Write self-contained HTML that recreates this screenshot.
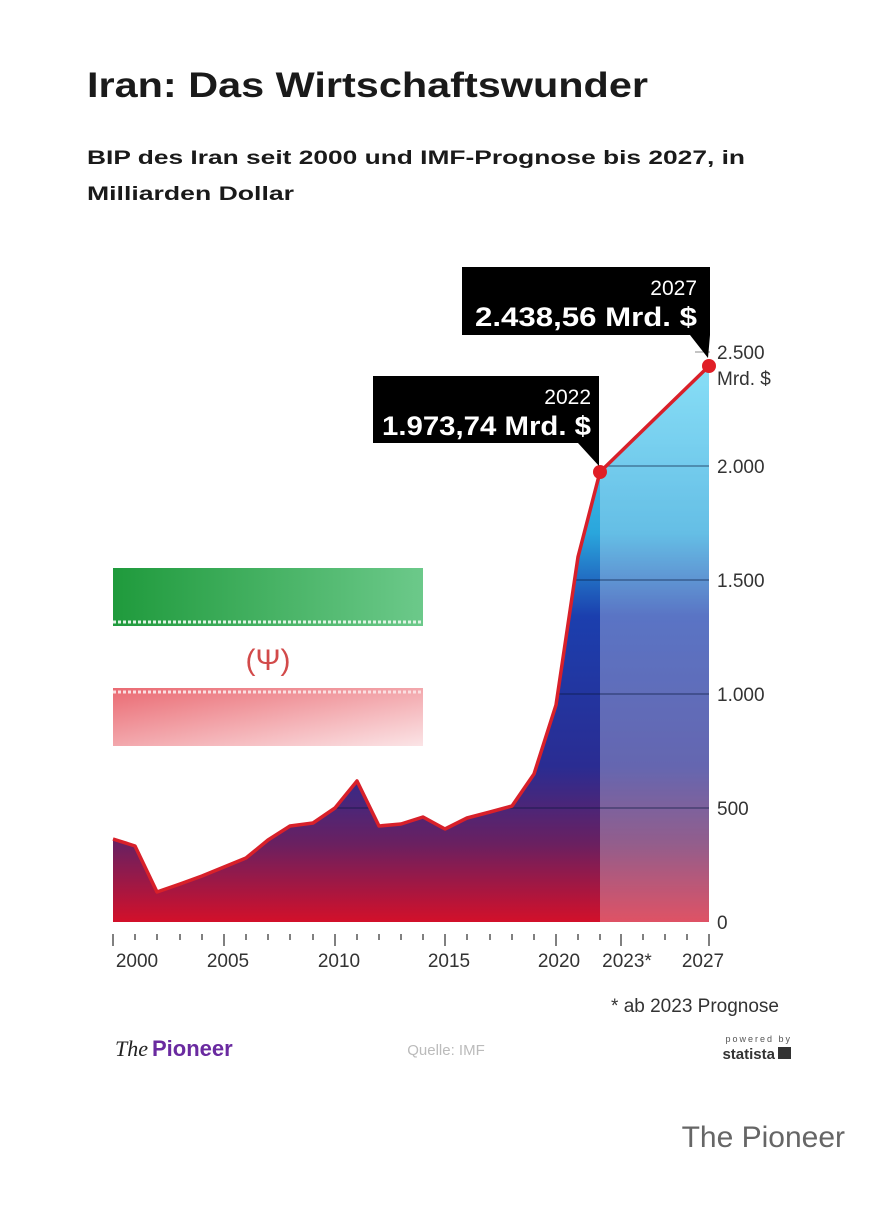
<!DOCTYPE html>
<html><head><meta charset="utf-8"><style>
body{margin:0;background:#fff;width:888px;height:1200px;overflow:hidden;font-family:"Liberation Sans",sans-serif}
</style></head><body>
<svg width="888" height="1200" viewBox="0 0 888 1200" xmlns="http://www.w3.org/2000/svg" font-family="Liberation Sans, sans-serif">
<defs>
<linearGradient id="g" x1="0" y1="366" x2="0" y2="922" gradientUnits="userSpaceOnUse">
<stop offset="0" stop-color="#5ad2f4"/>
<stop offset="0.3" stop-color="#2aa6dc"/>
<stop offset="0.45" stop-color="#1b3fae"/>
<stop offset="0.72" stop-color="#2a2c92"/>
<stop offset="0.86" stop-color="#6a2060"/>
<stop offset="1" stop-color="#d3102a"/>
</linearGradient>
<linearGradient id="gr" x1="0" y1="0" x2="1" y2="0"><stop offset="0" stop-color="#1f9a3c"/><stop offset="1" stop-color="#6cc98a"/></linearGradient>
<linearGradient id="rd" x1="0" y1="0" x2="1" y2="1"><stop offset="0" stop-color="#ea6a72"/><stop offset="1" stop-color="#fbe4e6"/></linearGradient>
<clipPath id="cp"><path d="M113,839 L135,846 L157,892 L180,884 L202,876 L224,867 L246,858 L268,840 L290,826 L313,823 L335,808 L357,781 L379,826 L401,824 L423,817 L445,829 L467,818 L490,812 L512,806 L534,774 L556,705 L578,557 L600,472 L709,366 L709,922 L113,922 Z"/></clipPath>
</defs>
<text x="87" y="97" font-size="35" font-weight="bold" fill="#1a1a1a" textLength="561" lengthAdjust="spacingAndGlyphs">Iran: Das Wirtschaftswunder</text>
<text x="87" y="164" font-size="19" font-weight="bold" fill="#1a1a1a" textLength="658" lengthAdjust="spacingAndGlyphs">BIP des Iran seit 2000 und IMF-Prognose bis 2027, in</text>
<text x="87" y="200" font-size="19" font-weight="bold" fill="#1a1a1a" textLength="207" lengthAdjust="spacingAndGlyphs">Milliarden Dollar</text>

<!-- flag -->
<rect x="113" y="568" width="310" height="58" fill="url(#gr)"/>
<rect x="113" y="688" width="310" height="58" fill="url(#rd)"/>
<line x1="113" y1="622" x2="423" y2="622" stroke="#dff3e4" stroke-width="3" stroke-dasharray="3 2"/>
<line x1="113" y1="692" x2="423" y2="692" stroke="#fbdfe1" stroke-width="3" stroke-dasharray="3 2"/>
<text x="268" y="670" font-size="30" fill="#d24a4a" text-anchor="middle">(Ψ)</text>

<!-- area -->
<path d="M113,839 L135,846 L157,892 L180,884 L202,876 L224,867 L246,858 L268,840 L290,826 L313,823 L335,808 L357,781 L379,826 L401,824 L423,817 L445,829 L467,818 L490,812 L512,806 L534,774 L556,705 L578,557 L600,472 L600,922 L113,922 Z" fill="url(#g)"/>
<path d="M600,472 L709,366 L709,922 L600,922 Z" fill="url(#g)"/>
<path d="M600,472 L709,366 L709,922 L600,922 Z" fill="#fff" opacity="0.28"/>
<g stroke="#0a1a40" stroke-opacity="0.55" stroke-width="1.2" clip-path="url(#cp)">
<line x1="113" y1="808" x2="710" y2="808"/><line x1="113" y1="694" x2="710" y2="694"/>
<line x1="113" y1="580" x2="710" y2="580"/><line x1="600" y1="466" x2="710" y2="466"/>
</g>
<line x1="695" y1="352" x2="710" y2="352" stroke="#888"/>
<path d="M113,839 L135,846 L157,892 L180,884 L202,876 L224,867 L246,858 L268,840 L290,826 L313,823 L335,808 L357,781 L379,826 L401,824 L423,817 L445,829 L467,818 L490,812 L512,806 L534,774 L556,705 L578,557 L600,472 L709,366" fill="none" stroke="#d8202a" stroke-width="3.5" stroke-linejoin="round"/>
<circle cx="600" cy="472" r="7" fill="#e01e26"/><circle cx="709" cy="366" r="7" fill="#e01e26"/>

<!-- callouts -->
<path d="M462,267 H710 V335 H710 L708,358 L690,335 H462 Z" fill="#000"/>
<text x="697" y="295" font-size="21" fill="#fff" text-anchor="end">2027</text>
<text x="697" y="326" font-size="27" font-weight="bold" fill="#fff" text-anchor="end" textLength="222" lengthAdjust="spacingAndGlyphs">2.438,56 Mrd. $</text>
<path d="M373,376 H599 V443 L599,466 L578,443 H373 Z" fill="#000"/>
<text x="591" y="404" font-size="21" fill="#fff" text-anchor="end">2022</text>
<text x="591" y="435" font-size="27" font-weight="bold" fill="#fff" text-anchor="end" textLength="209" lengthAdjust="spacingAndGlyphs">1.973,74 Mrd. $</text>

<!-- y labels -->
<g font-size="19" fill="#333">
<text x="717" y="359">2.500</text><text x="717" y="385">Mrd. $</text>
<text x="717" y="473">2.000</text><text x="717" y="587">1.500</text>
<text x="717" y="701">1.000</text><text x="717" y="815">500</text><text x="717" y="929">0</text>
</g>
<!-- x ticks -->
<g stroke="#555" stroke-width="1.5">
<line x1="113" y1="934" x2="113" y2="946"/><line x1="135" y1="934" x2="135" y2="940"/><line x1="157" y1="934" x2="157" y2="940"/><line x1="180" y1="934" x2="180" y2="940"/><line x1="202" y1="934" x2="202" y2="940"/>
<line x1="224" y1="934" x2="224" y2="946"/><line x1="246" y1="934" x2="246" y2="940"/><line x1="268" y1="934" x2="268" y2="940"/><line x1="290" y1="934" x2="290" y2="940"/><line x1="313" y1="934" x2="313" y2="940"/>
<line x1="335" y1="934" x2="335" y2="946"/><line x1="357" y1="934" x2="357" y2="940"/><line x1="379" y1="934" x2="379" y2="940"/><line x1="401" y1="934" x2="401" y2="940"/><line x1="423" y1="934" x2="423" y2="940"/>
<line x1="445" y1="934" x2="445" y2="946"/><line x1="467" y1="934" x2="467" y2="940"/><line x1="490" y1="934" x2="490" y2="940"/><line x1="512" y1="934" x2="512" y2="940"/><line x1="534" y1="934" x2="534" y2="940"/>
<line x1="556" y1="934" x2="556" y2="946"/><line x1="578" y1="934" x2="578" y2="940"/><line x1="600" y1="934" x2="600" y2="940"/><line x1="621" y1="934" x2="621" y2="946"/><line x1="643" y1="934" x2="643" y2="940"/><line x1="665" y1="934" x2="665" y2="940"/><line x1="687" y1="934" x2="687" y2="940"/><line x1="709" y1="934" x2="709" y2="946"/>
</g>
<g font-size="19" fill="#333" text-anchor="middle">
<text x="137" y="967">2000</text><text x="228" y="967">2005</text><text x="339" y="967">2010</text><text x="449" y="967">2015</text><text x="559" y="967">2020</text><text x="627" y="967">2023*</text><text x="703" y="967">2027</text>
</g>
<text x="779" y="1012" font-size="19" fill="#333" text-anchor="end">* ab 2023 Prognose</text>
<text x="115" y="1056" font-size="22" font-style="italic" font-family="Liberation Serif, serif" fill="#222">The</text>
<text x="152" y="1056" font-size="22" font-weight="bold" fill="#6a2aa0">Pioneer</text>
<text x="446" y="1055" font-size="15" fill="#bbb" text-anchor="middle">Quelle: IMF</text>
<text x="792" y="1042" font-size="9" fill="#555" text-anchor="end" letter-spacing="2">powered by</text>
<text x="775" y="1059" font-size="15" font-weight="bold" fill="#333" text-anchor="end">statista</text>
<rect x="778" y="1047" width="13" height="12" fill="#333"/>
<text x="845" y="1147" font-size="30" fill="#666" text-anchor="end">The Pioneer</text>
</svg>
</body></html>
